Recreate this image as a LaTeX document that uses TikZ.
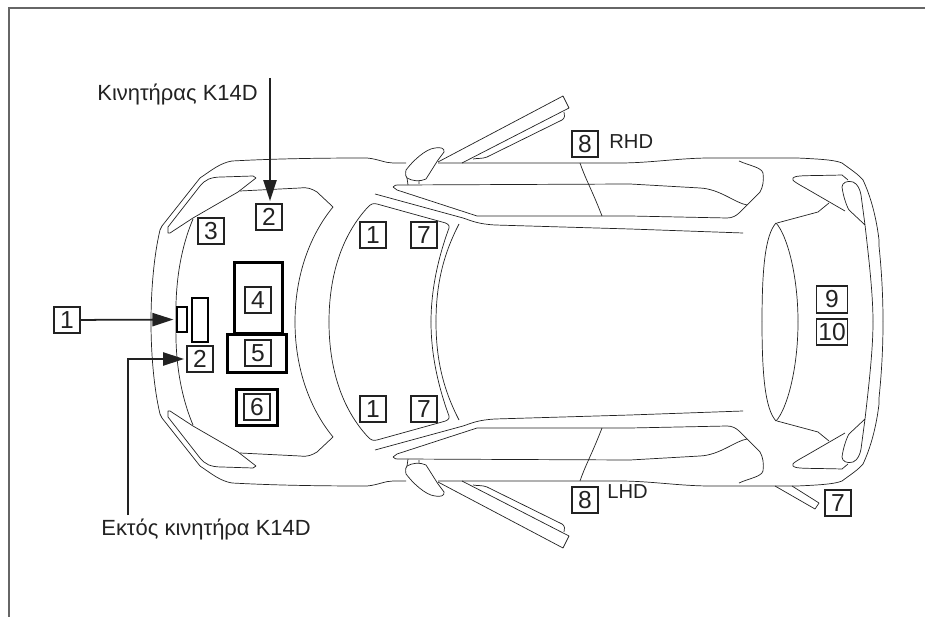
\documentclass[tikz,border=0pt]{standalone}
\usepackage{fontspec}
\setmainfont{Liberation Sans}
\usetikzlibrary{arrows.meta}
\definecolor{ink}{HTML}{222222}
\definecolor{edge}{HTML}{666666}
\tikzset{car/.style={draw=ink,line width=0.4pt,line join=round}}
\tikzset{num/.style={draw=ink,line width=1pt,inner sep=0pt,minimum size=0.53cm,text=ink,font=\fontsize{14}{16}\selectfont}}
\tikzset{numw/.style={num,minimum width=0.62cm}}
\tikzset{part/.style={draw=black,line width=1.3pt,inner sep=0pt}}
\tikzset{txt/.style={text=ink,inner sep=0pt,font=\fontsize{12.5}{15}\selectfont}}
\tikzset{side/.style={text=ink,inner sep=0pt,font=\fontsize{11.5}{14}\selectfont}}
\tikzset{arr/.style={draw=ink,line width=1pt,-{Triangle[length=12pt,width=7.5pt]}}}
\newcommand{\carhalf}{
    % body
    \draw[car] (151,322) .. controls (151,290) and (154,255) .. (160,230) -- (162,226)
        -- (200,178) .. controls (212,170) and (220,163) .. (232,161) .. controls (270,159) and (310,158) .. (367,158)
        .. controls (378,159) and (385,163) .. (393,163) -- (406,163);
    \draw[car] (438,163) -- (620,163) .. controls (650,163) and (680,158) .. (710,158) -- (797,158)
        .. controls (820,159) and (835,160) .. (842,163) .. controls (850,169) and (858,174) .. (863,180)
        .. controls (870,195) and (876,215) .. (879,240) -- (879,246) .. controls (882,275) and (883,300) .. (883,322);
    % hood and headlight
    \draw[car] (176,322) .. controls (175,285) and (180,250) .. (193,219);
    \draw[car] (168,233) -- (168,227) -- (200,186) .. controls (205,180) and (210,177) .. (222,177) -- (253,176) -- (256,178)
        -- (238,192) -- (193,218) -- (170,233) -- cycle;
    \draw[car] (240,191) -- (300,188) .. controls (308,187) and (312,189) .. (317,192) -- (333,207)
        .. controls (310,235) and (295,275) .. (295,322);
    % windshield
    \draw[car] (329,322) .. controls (329,275) and (342,235) .. (368,207) .. controls (371,204) and (373,203) .. (377,204)
        -- (442,222) .. controls (447,223) and (450,225) .. (449,228) .. controls (438,258) and (431,290) .. (431,322);
    \draw[car] (459,224) .. controls (443,255) and (436,285) .. (436,322);
    % roof edge
    \draw[car] (375,194) -- (463,218) .. controls (472,221) and (478,224) .. (495,225) -- (630,229) -- (743,233);
    % side window
    \draw[car] (393,187) .. controls (394,185) and (396,185) .. (400,185) -- (630,184) -- (700,188)
        .. controls (720,189) and (735,203) .. (747,205);
    \draw[car] (393,187) -- (397,190) -- (477,216) -- (630,216) -- (727,218) .. controls (732,218) and (736,216) .. (739,213) -- (760,192)
        .. controls (763,187) and (764,180) .. (763,173) .. controls (761,167) and (750,166) .. (739,161);
    \draw[car] (580,163) .. controls (585,178) and (592,190) .. (602,216);
    % wing mirror
    \draw[car] (444,152) .. controls (445,148) and (440,147) .. (435,148) .. controls (425,149) and (412,162) .. (406,170)
        .. controls (405,175) and (406,177) .. (407,178) .. controls (412,181) and (420,182) .. (426,179)
        -- (438,160) -- cycle;
    \draw[car] (407,178) -- (408,185) (419,181) -- (419,184);
    % open door
    \draw[car] (438,162) -- (563,96) -- (569,108) -- (462,163);
    \draw[car] (473,159) .. controls (478,158) and (482,159) .. (487,157) -- (562,120) .. controls (565,118) and (565,115) .. (564,112);
    % tailgate and rear lamp
    \draw[car] (762,322) .. controls (762,270) and (765,235) .. (776,223) .. controls (787,235) and (798,275) .. (798,322);
    \draw[car] (777,223) -- (818,212) -- (829,203);
    \draw[car] (845,211) -- (807,189) .. controls (800,185) and (790,180) .. (793,178) .. controls (796,175) and (805,176) .. (842,175) -- (848,180);
    \draw[car] (865,225) -- (849,210) .. controls (846,205) and (843,195) .. (842,187) .. controls (842,183) and (847,180) .. (853,182)
        .. controls (858,184) and (860,190) .. (861,195) -- (865,225) .. controls (869,260) and (873,295) .. (873,322);
}

\begin{document}
\begin{tikzpicture}[x=0.02cm,y=-0.02cm]
    \useasboundingbox (0,0) rectangle (925,617);
    \coordinate (framea) at (9,617);
    \coordinate (frameb) at (9,8);
    \coordinate (framec) at (925,8);
    \draw[edge,line width=0.8pt] (framea) -- (frameb) -- (framec);

    \carhalf
    \begin{scope}[shift={(0,644)},yscale=-1]
        \carhalf
    \end{scope}
    % aerial
    \draw[car] (775,486) -- (815,509) -- (819,503) -- (792,486);

    \node[part,minimum width=0.96cm,minimum height=1.42cm] (box4) at (258.5,298) {};
    \node[part,minimum width=1.18cm,minimum height=0.76cm] (box5) at (257,353.5) {};
    \node[part,minimum width=0.82cm,minimum height=0.72cm] (box6) at (257,407.5) {};
    \node[part,minimum width=0.19cm,minimum height=0.49cm] (fuse1) at (182,319.5) {};
    \node[part,minimum width=0.31cm,minimum height=0.87cm] (fuse2) at (200,320) {};

    \node[num] (n1a) at (67,320) {1};
    \node[num] (n2a) at (269,217) {2};
    \node[num] (n3) at (211,231) {3};
    \node[num] (n4) at (258,300) {4};
    \node[num] (n5) at (258,353) {5};
    \node[num] (n6) at (257,407) {6};
    \node[num] (n2b) at (200,359) {2};
    \node[num] (n1b) at (373,235) {1};
    \node[num] (n7a) at (424,235) {7};
    \node[num] (n1c) at (373,409) {1};
    \node[num] (n7b) at (424,409) {7};
    \node[num] (n8a) at (585,144) {8};
    \node[num] (n8b) at (585,500) {8};
    \node[numw] (n9) at (832,299.5) {9};
    \node[numw] (n10) at (832,332) {10};
    \node[num] (n7c) at (838,503) {7};

    \node[txt,anchor=west] (engine) at (97,95) {Κινητήρας K14D};
    \node[txt,anchor=west] (noengine) at (101,530) {Εκτός κινητήρα K14D};
    \node[side,anchor=west] (rhd) at (609,142) {RHD};
    \node[side,anchor=west] (lhd) at (607,492) {LHD};

    \coordinate (engtop) at (270,78);
    \coordinate (noeng) at (128,515);
    \draw[arr,shorten >=1pt] (engtop) -- (engtop |- n2a.north);
    \draw[arr,shorten >=1.5pt] (n1a) -- (fuse1);
    \draw[arr,shorten >=1pt] (noeng) |- (n2b);
\end{tikzpicture}
\end{document}
